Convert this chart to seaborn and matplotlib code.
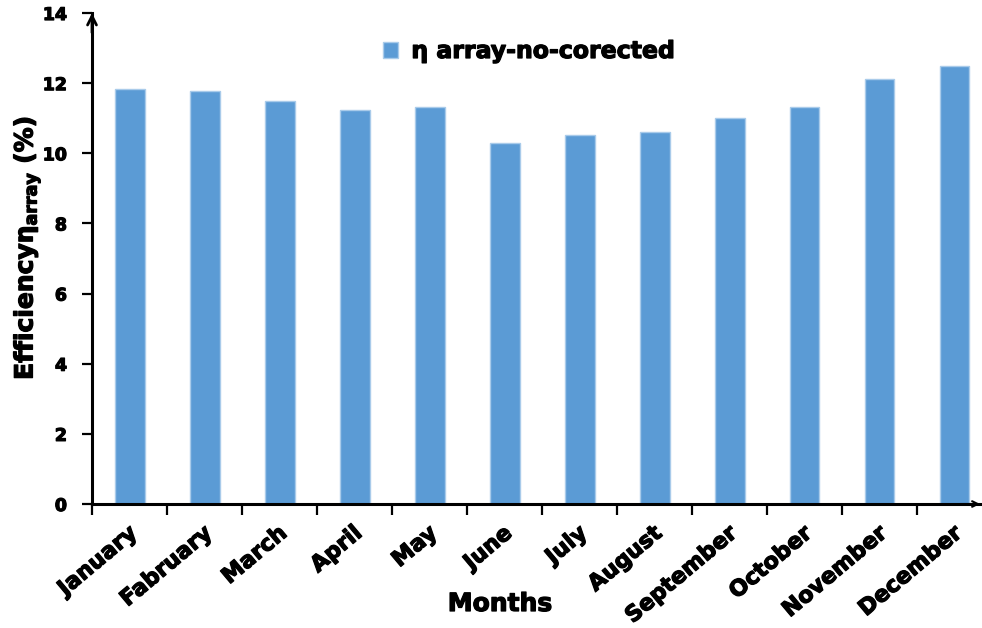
import matplotlib
matplotlib.use("Agg")
import matplotlib.pyplot as plt
import matplotlib.patheffects as pe
import matplotlib.transforms as mtransforms
import seaborn as sns
import pandas as pd
import numpy as np

months = ["January", "Fabruary", "March", "April", "May", "June", "July",
          "August", "September", "October", "November", "December"]
efficiency = [11.84, 11.77, 11.49, 11.23, 11.32, 10.29, 10.52, 10.60,
              11.01, 11.31, 12.13, 12.49]
series_name = "\u03b7 array-no-corected"
y_ticks = [0, 2, 4, 6, 8, 10, 12, 14]

df = pd.DataFrame({"Month": months, "Efficiency": efficiency})

sns.set_theme(style="white")
plt.rcParams["font.family"] = ["DejaVu Sans"]
plt.rcParams["font.weight"] = "bold"
plt.rcParams["mathtext.fontset"] = "custom"
plt.rcParams["mathtext.rm"] = "DejaVu Sans:bold"
plt.rcParams["mathtext.it"] = "DejaVu Sans:bold"
plt.rcParams["mathtext.bf"] = "DejaVu Sans:bold"

heavy = [pe.withStroke(linewidth=0.9, foreground="black")]

fig = plt.figure(figsize=(9.82, 6.28), dpi=100)
W, H = 982, 628
ax = fig.add_axes([92 / W, 1 - 504 / H, 900 / W, 491 / H])

sns.barplot(data=df, x="Month", y="Efficiency", color="#5B9BD5",
            saturation=1, width=0.4, edgecolor="#A9CBEA", linewidth=1,
            label=series_name, ax=ax)

ax.set_xlim(-0.5, 11.5)
ax.set_ylim(0, 14)
ax.set_yticks(y_ticks)
ax.set_yticklabels([str(t) for t in y_ticks], fontsize=12.5, fontweight="bold")

# month labels centred under bars, tick marks on category boundaries
ax.set_xticks(range(len(months)))
ax.set_xticklabels(months, rotation=40, ha="right", va="center",
                   rotation_mode="anchor", fontsize=16, fontweight="bold")
ax.tick_params(axis="x", which="major", length=0, pad=19)
ax.set_xticks(np.arange(-0.5, 12, 1.0), minor=True)
ax.tick_params(axis="x", which="minor", length=8, width=1.6, color="black",
               direction="out", bottom=True)
ax.tick_params(axis="y", length=7, width=1.6, color="black", direction="out",
               left=True, pad=11)
shift = mtransforms.ScaledTranslation(5 / 100, 0, fig.dpi_scale_trans)
for lbl in ax.get_xticklabels():
    lbl.set_transform(lbl.get_transform() + shift)

for side in ("top", "right"):
    ax.spines[side].set_visible(False)
for side in ("left", "bottom"):
    ax.spines[side].set_color("black")
    ax.spines[side].set_linewidth(2.2)

# open arrowheads at the ends of both axes
ax.annotate("", xy=(0, 1.0), xytext=(0, 0.96), xycoords="axes fraction",
            arrowprops=dict(arrowstyle="->", lw=2, color="black",
                            mutation_scale=16, shrinkA=0, shrinkB=0),
            annotation_clip=False)
ax.annotate("", xy=(980 / W, 1 - 504 / H), xytext=(960 / W, 1 - 504 / H),
            xycoords="figure fraction",
            arrowprops=dict(arrowstyle="->", lw=1.5, color="black",
                            mutation_scale=10, shrinkA=0, shrinkB=0),
            annotation_clip=False)

ax.set_xlabel("Months", fontsize=18, fontweight="bold", color="black")
ax.xaxis.set_label_coords((500 - 92) / 900, (504 - 592) / 491)
ax.set_ylabel(r"Efficiency$\eta_{array}$ (%)", fontsize=18,
              fontweight="bold", color="black")
ax.yaxis.set_label_coords((11 - 92) / 900, (504 - 248) / 491)
ax.yaxis.label.set_va("top")

leg = ax.legend(loc="center left", bbox_to_anchor=((383 - 92) / 900, (504 - 51) / 491),
                frameon=False, borderaxespad=0, borderpad=0,
                handlelength=0.65, handleheight=0.65, handletextpad=0.55,
                prop={"size": 17, "weight": "bold"})

for t in (ax.get_xticklabels() + ax.get_yticklabels() + leg.get_texts() +
          [ax.xaxis.label, ax.yaxis.label]):
    t.set_color("black")
    t.set_path_effects(heavy)

fig.savefig("out.png", dpi=100, facecolor="white")
